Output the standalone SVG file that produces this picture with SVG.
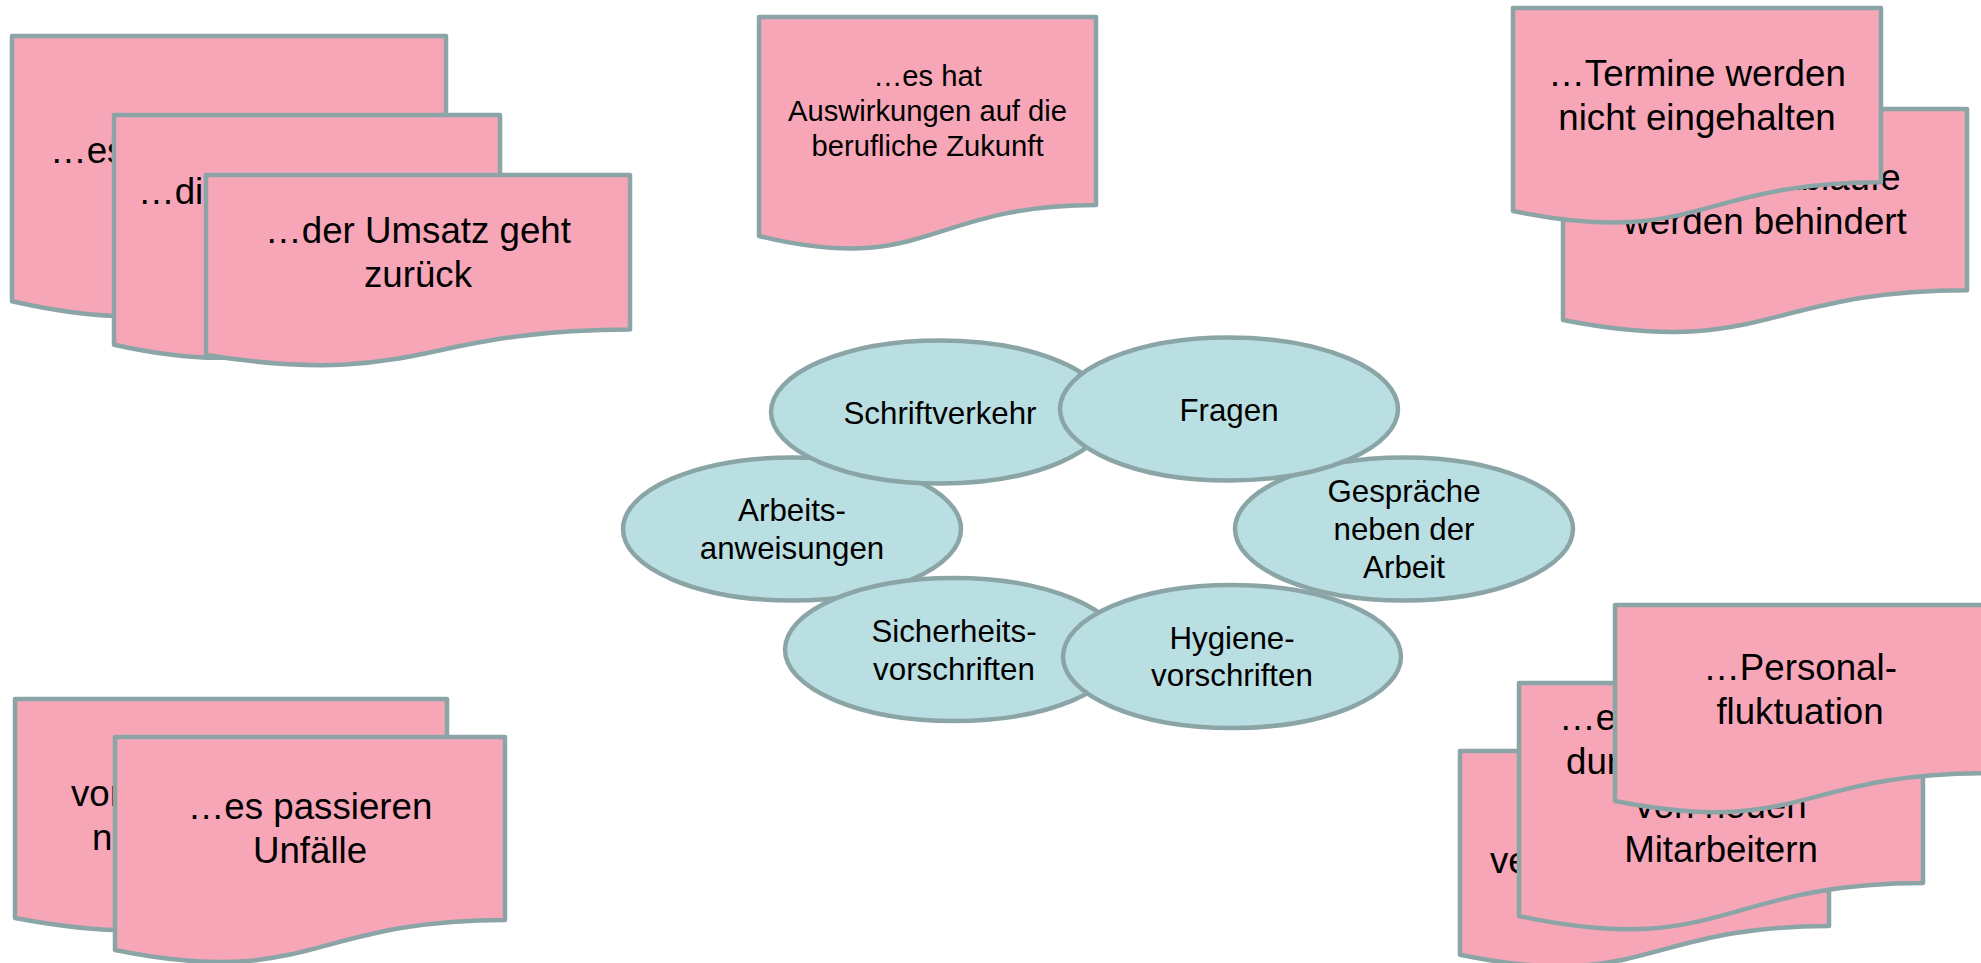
<svg xmlns="http://www.w3.org/2000/svg" width="1981" height="963" viewBox="0 0 1981 963">
<style>
.doc{fill:#F7A6B8;stroke:#8BA5A7;stroke-width:4.5;stroke-linejoin:round}
.ell{fill:#BADFE3;stroke:#8BA5A7;stroke-width:4.5}
text{font-family:"Liberation Sans",Arial,sans-serif;fill:#000;text-anchor:middle}
.big{font-size:36.7px}
.mid{font-size:29.2px}
.el{font-size:31.3px}
.st{text-anchor:start}
</style>
<rect width="1981" height="963" fill="#FFFFFF"/>
<g id="connectors"></g>

<g id="doc-a">
<path class="doc" d="M12 36 H446 V263.8 C229 263.8 229 350.5 12 301.3 Z"/>
<text class="big st" x="50" y="162.7">…es</text>
</g>
<g id="doc-b">
<path class="doc" d="M114 115 H500 V312.3 C307 312.3 307 387.5 114 344.8 Z"/>
<text class="big st" x="138" y="204.3">…di</text>
</g>
<g id="doc-c">
<path class="doc" d="M206 175 H630 V329.5 C418 329.5 418 388.4 206 355 Z"/>
<text class="big" x="418" y="243">…der Umsatz geht</text>
<text class="big" x="418" y="287">zurück</text>
</g>

<g id="doc-zukunft">
<path class="doc" d="M759 17 H1096 V205 C927.5 205 927.5 276.7 759 236 Z"/>
<text class="mid" x="927.5" y="86.1">…es hat</text>
<text class="mid" x="927.5" y="121.1">Auswirkungen auf die</text>
<text class="mid" x="927.5" y="156.1">berufliche Zukunft</text>
</g>

<g id="doc-ablaeufe">
<path class="doc" d="M1563 109 H1967 V290.2 C1765 290.2 1765 359.2 1563 320 Z"/>
<text class="big" x="1765" y="190.3">…Arbeitsabläufe</text>
<text class="big" x="1765" y="234.3">werden behindert</text>
</g>
<g id="doc-termine">
<path class="doc" d="M1513 8 H1881 V182.3 C1697 182.3 1697 248.7 1513 211 Z"/>
<text class="big" x="1697" y="85.8">…Termine werden</text>
<text class="big" x="1697" y="129.8">nicht eingehalten</text>
</g>

<g id="doc-vorschriften">
<path class="doc" d="M15 699 H447 V887.1 C231 887.1 231 958.7 15 918 Z"/>
<text class="big st" x="71" y="805.7">vor</text>
<text class="big st" x="92" y="849.7">n</text>
</g>
<g id="doc-unfaelle">
<path class="doc" d="M115 737 H505 V919.9 C310 919.9 310 989.5 115 950 Z"/>
<text class="big" x="310" y="819">…es passieren</text>
<text class="big" x="310" y="863">Unfälle</text>
</g>

<g id="doc-ve">
<path class="doc" d="M1460 751 H1829 V926 C1644.5 926 1644.5 992.7 1460 954.8 Z"/>
<text class="big st" x="1490" y="873.2">ve</text>
</g>
<g id="doc-mitarbeitern">
<path class="doc" d="M1519 683 H1923 V883.1 C1721 883.1 1721 959.3 1519 916 Z"/>
<text class="big st" x="1559" y="729.7">…e</text>
<text class="big st" x="1566" y="773.7">dur</text>
<text class="big" x="1721" y="817.7">von neuen</text>
<text class="big" x="1721" y="861.7">Mitarbeitern</text>
</g>
<g id="doc-fluktuation">
<path class="doc" d="M1615 605 H1985 V773.3 C1800 773.3 1800 837.5 1615 801 Z"/>
<text class="big" x="1800" y="679.9">…Personal-</text>
<text class="big" x="1800" y="723.9">fluktuation</text>
</g>

<g id="ell-gespraeche">
<ellipse class="ell" cx="1404" cy="529" rx="169" ry="71.5"/>
<text class="el" x="1404" y="502.4">Gespräche</text>
<text class="el" x="1404" y="540">neben der</text>
<text class="el" x="1404" y="577.6">Arbeit</text>
</g>
<g id="ell-arbeits">
<ellipse class="ell" cx="792" cy="529" rx="169" ry="71.5"/>
<text class="el" x="792" y="521">Arbeits-</text>
<text class="el" x="792" y="559">anweisungen</text>
</g>
<g id="ell-schrift">
<ellipse class="ell" cx="940" cy="412" rx="169" ry="71.5"/>
<text class="el" x="940" y="423.5">Schriftverkehr</text>
</g>
<g id="ell-fragen">
<ellipse class="ell" cx="1229" cy="409" rx="169" ry="71.5"/>
<text class="el" x="1229" y="421">Fragen</text>
</g>
<g id="ell-sicherheit">
<ellipse class="ell" cx="954" cy="649.5" rx="169" ry="71.5"/>
<text class="el" x="954" y="642">Sicherheits-</text>
<text class="el" x="954" y="679.6">vorschriften</text>
</g>
<g id="ell-hygiene">
<ellipse class="ell" cx="1232" cy="656.5" rx="169" ry="71.5"/>
<text class="el" x="1232" y="648.7">Hygiene-</text>
<text class="el" x="1232" y="686.3">vorschriften</text>
</g>
</svg>
